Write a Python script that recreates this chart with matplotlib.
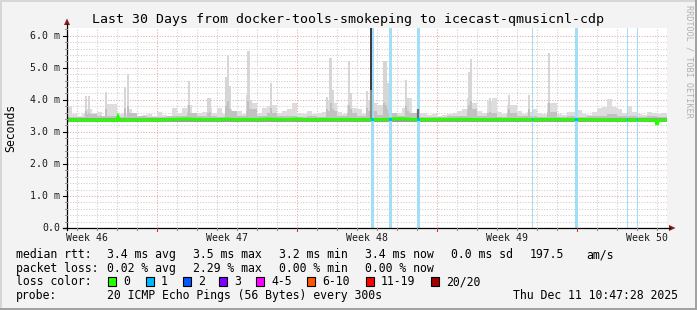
import matplotlib
matplotlib.use("Agg")
import matplotlib.pyplot as plt
from matplotlib.patches import Rectangle, Polygon

W, H = 697, 310

# ---------------- data ----------------
title = "Last 30 Days from docker-tools-smokeping to icecast-qmusicnl-cdp"
y_ticks = [0, 1, 2, 3, 4, 5, 6]
y_tick_labels = ["0.0", "1.0 m", "2.0 m", "3.0 m", "4.0 m", "5.0 m", "6.0 m"]
week_labels = ["Week 46", "Week 47", "Week 48", "Week 49", "Week 50"]
week_centers = [1.02, 8.02, 15.02, 22.02, 29.02]

# smoke envelope top (ms), 0.25-day bins over 30 days
smoke_top = [
    3.81, 3.55, 3.50, 3.55,  3.70, 3.60, 3.63, 3.50,  3.86, 3.86, 3.55, 3.60,
    3.70, 3.55, 3.50, 3.52,  3.55, 3.50, 3.63, 3.52,  3.50, 3.74, 3.60, 3.74,
    3.84, 3.60, 3.58, 3.62,  3.75, 3.60, 3.74, 3.55,  3.70, 3.62, 3.66, 3.55,
    3.80, 3.90, 3.60, 3.74,  3.81, 3.84, 3.60, 3.66,  3.70, 3.90, 3.60, 3.55,
    3.66, 3.55, 3.60, 3.62,  4.00, 3.90, 3.62, 3.55,  3.85, 3.75, 3.70, 3.55,
    4.00, 3.90, 3.84, 3.84,  3.70, 3.60, 3.60, 3.75,  4.05, 3.60, 3.60, 3.58,
    3.52, 3.55, 3.50, 3.52,  3.55, 3.60, 3.65, 3.70,  4.05, 3.90, 3.65, 3.60,
    3.96, 4.05, 3.63, 3.55,  3.84, 3.84, 3.66, 3.55,  3.63, 3.70, 3.60, 3.55,
    3.90, 3.90, 3.55, 3.53,  3.63, 3.63, 3.68, 3.55,  3.52, 3.63, 3.75, 3.76,
    4.02, 3.76, 3.72, 3.60,  3.81, 3.63, 3.55, 3.52,  3.63, 3.60, 3.55, 3.60,
]
# denser (darker) smoke top, 0.5-day bins
smoke_mid = [
    3.47, 3.46, 3.55, 3.48, 3.50, 3.46, 3.60, 3.48, 3.47, 3.46, 3.48, 3.50,
    3.60, 3.49, 3.50, 3.47, 3.65, 3.50, 3.70, 3.50, 3.60, 3.49, 3.50, 3.47,
    3.48, 3.47, 3.65, 3.50, 3.60, 3.48, 3.65, 3.52, 3.60, 3.48, 3.60, 3.47,
    3.46, 3.46, 3.48, 3.50, 3.70, 3.50, 3.58, 3.47, 3.58, 3.48, 3.50, 3.47,
    3.62, 3.47, 3.49, 3.47, 3.48, 3.50, 3.56, 3.48, 3.50, 3.46, 3.48, 3.47,
]
smoke_floor = 3.31

# tall narrow smoke spikes
spike_days = [0.95, 1.10, 1.95, 2.90, 3.05, 6.10, 7.05, 7.15, 7.95, 8.05, 8.15,
              9.00, 9.07, 9.17, 10.20, 13.00, 13.18, 13.30, 14.10, 14.20, 15.00,
              15.85, 15.95, 16.02, 16.95, 17.05, 20.12, 20.20, 21.15, 22.10,
              23.10, 24.10]
spike_tops = [4.12, 4.12, 4.25, 4.41, 4.80, 4.60, 4.05, 4.05, 4.72, 5.40, 4.42,
              4.15, 5.52, 4.00, 4.52, 4.10, 5.30, 4.30, 5.20, 4.20, 4.28,
              5.20, 5.20, 4.52, 4.62, 4.05, 4.88, 5.27, 4.05, 4.15,
              4.15, 5.46]
spike_mids = [3.65, 3.60, 3.70, 3.75, 3.80, 3.85, 3.60, 3.62, 3.80, 3.95, 3.70,
              3.65, 3.95, 3.60, 3.75, 3.70, 3.90, 3.70, 3.85, 3.70, 3.75,
              3.90, 3.85, 3.70, 3.80, 3.65, 3.85, 3.95, 3.62, 3.70,
              3.70, 3.90]

# median rtt (ms)
median_days = [0, 0.5, 1, 1.5, 2, 2.5, 2.55, 2.62, 3, 3.5, 4, 4.5, 5, 5.5, 6, 6.5,
               7, 7.5, 8, 8.5, 9, 9.5, 10, 10.5, 11, 11.5, 12, 12.5, 13, 13.5,
               14, 14.5, 15, 15.5, 16, 16.5, 17, 17.5, 18, 18.5, 19, 19.5, 20,
               20.5, 21, 21.5, 22, 22.5, 23, 23.5, 24, 24.5, 25, 25.5, 26, 26.5,
               27, 27.5, 28, 28.5, 29, 29.42, 29.5, 29.56, 29.95]
median_vals = [3.36, 3.37, 3.36, 3.37, 3.36, 3.36, 3.47, 3.37, 3.36, 3.37, 3.37,
               3.36, 3.38, 3.39, 3.40, 3.39, 3.38, 3.38, 3.40, 3.38, 3.39, 3.38,
               3.40, 3.39, 3.38, 3.40, 3.38, 3.37, 3.39, 3.38, 3.39, 3.38, 3.38,
               3.38, 3.39, 3.41, 3.40, 3.38, 3.38, 3.39, 3.38, 3.39, 3.39, 3.38,
               3.38, 3.39, 3.38, 3.38, 3.39, 3.37, 3.38, 3.39, 3.38, 3.38, 3.38,
               3.37, 3.38, 3.37, 3.37, 3.37, 3.37, 3.36, 3.22, 3.35, 3.37]

# packet loss events (1/20)
loss_days = [15.28, 16.18, 17.58, 23.28, 25.45, 28.03, 28.51]
loss_widths = [0.15, 0.15, 0.15, 0.08, 0.15, 0.06, 0.06]

# offscale spike
offscale_day = 15.22
offscale_from = 4.3

legend_loss_labels = ["0", "1", "2", "3", "4-5", "6-10", "11-19", "20/20"]
legend_loss_colors = ["#26ff00", "#00b8ff", "#0059ff", "#7e00ff", "#ff00ff",
                      "#ff5500", "#ff0000", "#a10000"]

stats_rtt = ["median rtt:", "3.4 ms avg", "3.5 ms max", "3.2 ms min", "3.4 ms now",
             "0.0 ms sd", "197.5", "am/s"]
stats_loss = ["packet loss:", "0.02 % avg", "2.29 % max", "0.00 % min", "0.00 % now"]
probe_text = ["probe:", "20 ICMP Echo Pings (56 Bytes) every 300s",
              "Thu Dec 11 10:47:28 2025"]

# ---------------- figure ----------------
YMAX = 6.24
fig = plt.figure(figsize=(W / 100, H / 100), dpi=100)
fig.patch.set_facecolor("#f3f3f3")

L, R, T, B = 67, 667, 28, 228
ax = fig.add_axes([L / W, (H - B) / H, (R - L) / W, (B - T) / H])
ax.set_xlim(0, 30)
ax.set_ylim(0, YMAX)
ax.set_facecolor("white")
for s in ax.spines.values():
    s.set_visible(False)
ax.set_xticks([])
ax.set_yticks([])

# grid
minor_col = "#cccccc"
major_col = "#e6a3a3"
dot = (0, (1, 1.6))
for k in range(31):
    v = k * 0.2
    if v > YMAX:
        break
    is_major = abs(v - round(v)) < 1e-6
    ax.axhline(v, color=major_col if is_major else minor_col, lw=0.75,
               ls=dot, zorder=1)
for k in range(31):
    d = 0.515 + k
    if d > 30:
        break
    is_major = (k - 4) % 7 == 0
    ax.axvline(d, color=major_col if is_major else minor_col, lw=0.75,
               ls=dot, zorder=1)

# smoke
nb = len(smoke_top)
bw = 30 / nb
ax.bar([i * bw for i in range(nb)], [t - smoke_floor for t in smoke_top],
       width=bw, bottom=smoke_floor, align="edge", color="#dddddd",
       linewidth=0, zorder=2)
ax.bar(spike_days, [t - smoke_floor for t in spike_tops], width=0.12,
       bottom=smoke_floor, color="#d6d6d6", linewidth=0, zorder=2.1)
ax.bar(spike_days, [m - smoke_floor for m in spike_mids], width=0.10,
       bottom=smoke_floor, color="#c0c0c0", linewidth=0, zorder=2.2)
nm = len(smoke_mid)
mw = 30 / nm
ax.bar([i * mw for i in range(nm)], [m - smoke_floor for m in smoke_mid],
       width=mw, bottom=smoke_floor, align="edge", color="#c2c2c2",
       linewidth=0, zorder=2.3)
ax.bar([i * mw for i in range(nm)], [0.13] * nm, width=mw, bottom=smoke_floor,
       align="edge", color="#9a9a9a", linewidth=0, zorder=2.4)

# loss bars
ax.bar(loss_days, [YMAX] * len(loss_days), width=loss_widths, bottom=0,
       color="#a3def8", linewidth=0, zorder=3)
ax.vlines([offscale_day], offscale_from, YMAX, color="#2a2a2a", lw=1.3, zorder=3.5)
ax.vlines([offscale_day], 3.4, offscale_from, color="#8a8a8a", lw=1.6, zorder=3.4)
ax.vlines([17.53], 3.4, 3.72, color="#6e6e6e", lw=1.6, zorder=3.4)

# median
ax.plot(median_days, median_vals, color="#26ff00", lw=2.2, zorder=4,
        solid_joinstyle="miter")
ax.bar(loss_days, [0.1] * len(loss_days), width=loss_widths, bottom=3.33,
       color="#00b8ff", linewidth=0, zorder=4.5)

# ---------------- overlay ----------------
ov = fig.add_axes([0, 0, 1, 1], zorder=10)
ov.set_xlim(0, W)
ov.set_ylim(H, 0)
ov.axis("off")
ov.patch.set_visible(False)

# frame
ov.add_patch(Rectangle((0, 0), W, 1.5, color="#d6d6d6", lw=0))
ov.add_patch(Rectangle((0, 0), 1.5, H, color="#d6d6d6", lw=0))
ov.add_patch(Rectangle((0, H - 2), W, 2, color="#a2a2a2", lw=0))
ov.add_patch(Rectangle((W - 2, 0), 2, H, color="#a2a2a2", lw=0))

# axes lines + arrows
ov.plot([L, L], [B + 2, 24], color="black", lw=0.9)
ov.plot([L - 4, 670], [B, B], color="black", lw=0.9)
ov.add_patch(Polygon([(L - 3, 25), (L + 3, 25), (L, 18.5)], closed=True,
                     color="#8b1a1a", lw=0))
ov.add_patch(Polygon([(669, B - 3), (669, B + 3), (675.5, B)], closed=True,
                     color="#8b1a1a", lw=0))

def ypx(v):
    return B - v * (B - T) / YMAX

def xpx(d):
    return L + d * (R - L) / 30

for k in range(32):
    v = k * 0.2
    if v > YMAX:
        break
    is_major = abs(v - round(v)) < 1e-6
    if is_major:
        ov.plot([L - 4, L], [ypx(v), ypx(v)], color="black", lw=0.8)
    else:
        ov.plot([L - 2, L], [ypx(v), ypx(v)], color="#909090", lw=0.7)
for k in range(31):
    d = 0.515 + k
    if d > 30:
        break
    is_major = (k - 4) % 7 == 0
    ov.plot([xpx(d), xpx(d)], [B, B + (3 if is_major else 2)],
            color="#c04040" if is_major else "#909090", lw=0.8)

mono = "DejaVu Sans Mono"
for v, lab in zip(y_ticks, y_tick_labels):
    ov.text(60, ypx(v), lab, ha="right", va="center", fontsize=7.1,
            family=mono, color="#1a1a1a")
for d, lab in zip(week_centers, week_labels):
    ov.text(xpx(d), 238, lab, ha="center", va="center", fontsize=7.1,
            family=mono, color="#1a1a1a")

ov.text(347.5, 19.5, title, ha="center", va="center", fontsize=9.5,
        family=mono, color="black")
ov.text(11, 128, "Seconds", rotation=90, ha="center", va="center",
        fontsize=8.3, family=mono, color="black")
ov.text(688.5, 5, "RRDTOOL / TOBI OETIKER", rotation=-90, ha="center",
        va="top", fontsize=6.1, family=mono, color="#b0b0b0")

fs = 8.3
rtt_x = [16, 106.7, 193.3, 279.3, 365, 451, 530, 586]
for x, s in zip(rtt_x, stats_rtt):
    ov.text(x, 254.5, s, ha="left", va="center", fontsize=fs, family=mono)
loss_x = [16, 107.3, 193.3, 279.3, 365]
for x, s in zip(loss_x, stats_loss):
    ov.text(x, 268.2, s, ha="left", va="center", fontsize=fs, family=mono)
ov.text(16, 281.8, "loss color:", ha="left", va="center", fontsize=fs,
        family=mono)
box_x = [108.3, 146, 182.7, 219.3, 256, 307.3, 366, 430.7]
for x, lab, c in zip(box_x, legend_loss_labels, legend_loss_colors):
    ov.add_patch(Rectangle((x, 277.3), 8, 9, facecolor=c, edgecolor="black",
                           lw=0.8))
    ov.text(x + 15, 281.8, lab, ha="left", va="center", fontsize=fs,
            family=mono)
ov.text(16, 295.8, probe_text[0], ha="left", va="center", fontsize=fs,
        family=mono)
ov.text(107.3, 295.8, probe_text[1], ha="left", va="center", fontsize=fs,
        family=mono)
ov.text(513.3, 295.8, probe_text[2], ha="left", va="center", fontsize=fs,
        family=mono)

fig.savefig("out.png", dpi=100, facecolor=fig.get_facecolor())
